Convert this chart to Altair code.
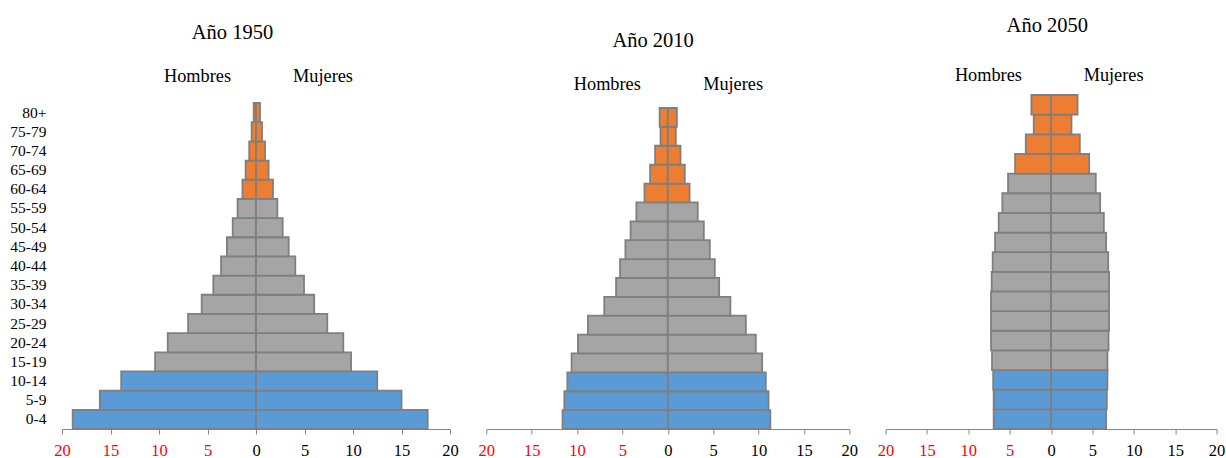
import altair as alt
import pandas as pd

# Age groups, youngest first
edades = ["0-4", "5-9", "10-14", "15-19", "20-24", "25-29", "30-34", "35-39",
          "40-44", "45-49", "50-54", "55-59", "60-64", "65-69", "70-74", "75-79", "80+"]

# Broad age bands used for the bar colours (the elderly band starts at 65 in 2050)
grupo_1950 = ["joven"] * 3 + ["adulto"] * 9 + ["mayor"] * 5
grupo_2010 = ["joven"] * 3 + ["adulto"] * 9 + ["mayor"] * 5
grupo_2050 = ["joven"] * 3 + ["adulto"] * 10 + ["mayor"] * 4

# Population share (%) by sex
hombres_1950 = [18.9, 16.1, 13.9, 10.4, 9.1, 7.0, 5.6, 4.4, 3.6, 3.0, 2.4, 1.9, 1.4, 1.07, 0.7, 0.45, 0.24]
mujeres_1950 = [17.7, 15.0, 12.5, 9.8, 9.0, 7.35, 6.0, 4.95, 4.05, 3.37, 2.75, 2.2, 1.75, 1.3, 0.93, 0.62, 0.41]

hombres_2010 = [11.6, 11.4, 11.07, 10.6, 9.9, 8.8, 7.0, 5.7, 5.26, 4.67, 4.1, 3.46, 2.57, 1.95, 1.4, 0.8, 0.9]
mujeres_2010 = [11.3, 11.1, 10.8, 10.4, 9.7, 8.6, 6.9, 5.66, 5.18, 4.63, 3.97, 3.3, 2.4, 1.87, 1.4, 0.88, 1.0]

hombres_2050 = [6.94, 6.94, 7.0, 7.14, 7.26, 7.26, 7.26, 7.18, 7.06, 6.77, 6.33, 5.89, 5.2, 4.35, 3.06, 2.1, 2.38]
mujeres_2050 = [6.65, 6.73, 6.81, 6.81, 6.94, 7.0, 7.0, 7.0, 6.9, 6.65, 6.37, 5.93, 5.4, 4.6, 3.47, 2.46, 3.2]

ticks_x = [-20, -15, -10, -5, 0, 5, 10, 15, 20]

FONT = "Liberation Serif"
COLORES = {"joven": "#5b9bd5", "adulto": "#a5a5a5", "mayor": "#ed7d31"}


def tabla(hombres, mujeres, grupo):
    filas = []
    for e, g, h, m in zip(edades, grupo, hombres, mujeres):
        filas.append({"edad": e, "grupo": g, "inicio": -h, "fin": 0})
        filas.append({"edad": e, "grupo": g, "inicio": 0, "fin": m})
    return pd.DataFrame(filas)


def texto(t, x, y, size):
    return alt.Chart(pd.DataFrame({"t": [t]})).mark_text(
        font=FONT, fontSize=size, color="#000000", baseline="alphabetic", align="center"
    ).encode(text="t:N", x=alt.value(x), y=alt.value(y))


def piramide(hombres, mujeres, grupo, anio, ancho, rango_y, mostrar_edades, pos):
    barras = alt.Chart(tabla(hombres, mujeres, grupo)).mark_bar(
        stroke="#7f7f7f", strokeWidth=1.8
    ).encode(
        x=alt.X("inicio:Q",
                scale=alt.Scale(domain=[-20, 20], nice=False, zero=False),
                axis=alt.Axis(
                    values=ticks_x, title=None, grid=False,
                    labelExpr="format(abs(datum.value), 'd')",
                    labelColor={"expr": "datum.value < 0 ? '#ff0000' : '#000000'"},
                    labelFont=FONT, labelFontSize=16.5, labelPadding=8,
                    tickColor="#868686", tickSize=5, domainColor="#868686",
                    labelFlush=False, labelOverlap=False,
                )),
        x2="fin:Q",
        y=alt.Y("edad:N",
                scale=alt.Scale(domain=edades[::-1], range=rango_y,
                                paddingInner=0, paddingOuter=0),
                axis=alt.Axis(title=None, domain=False, ticks=False, tickSize=0,
                              labelFont=FONT, labelFontSize=15.5, labelColor="#000000",
                              labelPadding=16, labels=mostrar_edades)),
        color=alt.Color("grupo:N",
                        scale=alt.Scale(domain=list(COLORES), range=list(COLORES.values())),
                        legend=None),
    )
    t_x, t_y, h_x, m_x, s_y = pos
    return alt.layer(
        barras,
        texto(f"Año {anio}", t_x, t_y, 20.5),
        texto("Hombres", h_x, s_y, 18.3),
        texto("Mujeres", m_x, s_y, 18.3),
    ).properties(width=ancho, height=334)


p1950 = piramide(hombres_1950, mujeres_1950, grupo_1950, 1950, 388, [8, 334], True,
                 (170.5, -56.5, 135.5, 261, -13.5))
p2010 = piramide(hombres_2010, mujeres_2010, grupo_2010, 2010, 363, [13, 334], False,
                 (166.8, -48.5, 121, 246.8, -5))
p2050 = piramide(hombres_2050, mujeres_2050, grupo_2050, 2050, 331, [0, 334], False,
                 (161.7, -63.5, 102.8, 228, -14))

chart = alt.hconcat(p1950, p2010, p2050, spacing=36.3, bounds="flush").properties(
    padding={"left": 9, "top": 15, "right": 0, "bottom": 2}
).configure_view(stroke=None).configure_axis(domainWidth=1, tickWidth=1)

chart.save("out.html", embed_options={"renderer": "svg", "actions": False})
